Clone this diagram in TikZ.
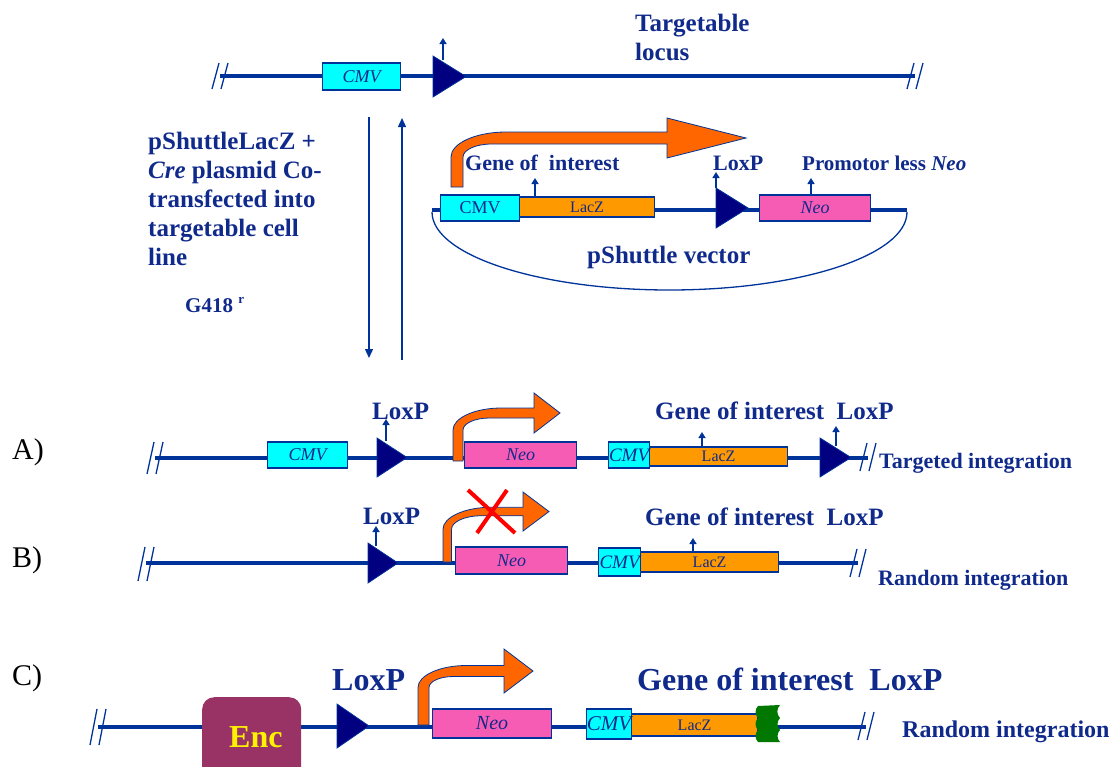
\documentclass[tikz,border=0pt]{standalone}
\usepackage{fontspec}
\setmainfont{Liberation Serif}
\usetikzlibrary{arrows.meta}

\definecolor{lineblue}{RGB}{0,51,153}
\definecolor{txtblue}{RGB}{16,42,140}
\definecolor{navy}{RGB}{0,0,128}
\definecolor{cmvcyan}{RGB}{0,255,255}
\definecolor{lacorange}{RGB}{255,153,0}
\definecolor{neopink}{RGB}{247,92,180}
\definecolor{promorange}{RGB}{255,102,0}
\definecolor{encpurple}{RGB}{153,51,102}
\definecolor{wavegreen}{RGB}{0,120,0}

\newcommand\fsz[1]{\fontsize{#1}{#1}\selectfont}

% two slanted break marks across a backbone: centre x, centre y, half height
\newcommand\brkmark[3]{%
  \draw[brk] (#1-8,#2+#3) -- (#1-1,#2-#3);
  \draw[brk] (#1+1,#2+#3) -- (#1+8,#2-#3);}

% LoxP site: left x, centre y, width, half height
\newcommand\loxsite[4]{%
  \filldraw[lox] (#1,#2-#4) -- (#1+#3,#2) -- (#1,#2+#4) -- cycle;}

% bent promoter arrow: left x, foot y, shaft centre y, shaft width,
% corner radius, head start x, tip x, head half height
\newcommand\bentarrow[8]{%
  \pgfmathsetmacro\promTop{#3-#4/2}%
  \pgfmathsetmacro\promBot{#3+#4/2}%
  \pgfmathsetmacro\promXi{#1+#4}%
  \pgfmathsetmacro\promRi{max(#5-#4,2)}%
  \filldraw[promoter] (#1,#2) -- (#1,\promTop+#5)
    .. controls (#1,\promTop+0.45*#5) and (#1+0.99*#5,\promTop) .. (#1+2.2*#5,\promTop)
    -- (#6,\promTop) -- (#6,#3-#8) -- (#7,#3) -- (#6,#3+#8) -- (#6,\promBot)
    -- (\promXi+2.2*\promRi,\promBot)
    .. controls (\promXi+0.99*\promRi,\promBot) and (\promXi,\promBot+0.45*\promRi) .. (\promXi,\promBot+\promRi)
    -- (\promXi,#2) -- cycle;}

\tikzset{
  backbone/.style={lineblue, line width=3.2pt},
  brk/.style={lineblue, line width=1.3pt},
  thinline/.style={lineblue, line width=1.3pt},
  flow/.style={thinline, -{Triangle[width=8pt,length=9pt]}},
  tick/.style={lineblue, line width=1.8pt, -{Triangle[width=7pt,length=6pt]}},
  gbox/.style={draw=lineblue, line width=1.2pt, inner sep=0pt, text=txtblue, anchor=west},
  cmvbox/.style={gbox, fill=cmvcyan},
  laczbox/.style={gbox, fill=lacorange},
  neobox/.style={gbox, fill=neopink},
  lox/.style={fill=navy, draw=lineblue, line width=0.8pt},
  promoter/.style={fill=promorange, draw=lineblue, line width=0.8pt},
  lbl/.style={text=txtblue, inner sep=0pt, anchor=base west},
  rowlbl/.style={text=black, inner sep=0pt, anchor=base west, font=\fsz{30}},
}

\begin{document}
\begin{tikzpicture}[x=1pt,y=-1pt]
\useasboundingbox (0,0) rectangle (1119,766);
\clip (0,0) rectangle (1119,766);

% ---------------- targetable locus ----------------
\draw[backbone] (220,76) -- (915,76);
\brkmark{220}{76}{13}
\brkmark{915}{76}{13}
\node[cmvbox, minimum width=78pt, minimum height=27pt, font=\fsz{18}\itshape] (cmvTop) at (322,76.5) {CMV};
\loxsite{433}{76.5}{33}{20.5}
\coordinate (tickTopA) at (443,60);
\coordinate (tickTopB) at (443,38);
\draw[tick] (tickTopA) -- (tickTopB);
\node[lbl, font=\fsz{25}\bfseries] (locusA) at (635,31) {Targetable};
\node[lbl, font=\fsz{25}\bfseries] (locusB) at (635,60) {locus};

% ---------------- transfection arrows and text ----------------
\coordinate (downTop) at (369,117);
\coordinate (downBot) at (369,358);
\coordinate (upBot) at (402,360);
\coordinate (upTop) at (402,118);
\draw[flow] (downTop) -- (downBot);
\draw[flow] (upBot) -- (upTop);

\node[lbl, font=\fsz{25}\bfseries] (tx1) at (148,149) {pShuttleLacZ +};
\node[lbl, font=\fsz{25}\bfseries] (tx2) at (148,178) {\textit{Cre} plasmid Co-};
\node[lbl, font=\fsz{25}\bfseries] (tx3) at (148,207) {transfected into};
\node[lbl, font=\fsz{25}\bfseries] (tx4) at (148,236) {targetable cell};
\node[lbl, font=\fsz{25}\bfseries] (tx5) at (148,265) {line};
\node[lbl, font=\fsz{21}\bfseries] (g418) at (185,312) {G418~\raisebox{0.42em}{\fsz{13}r}};

% ---------------- pShuttle vector ----------------
\draw[backbone] (432,210) -- (907,210);
\draw[thinline] (432,212) arc[start angle=180, end angle=0, x radius=237.5, y radius=78];
\bentarrow{451}{187}{138}{12}{25}{667}{746}{20}
\node[cmvbox, minimum width=79pt, minimum height=26pt, font=\fsz{18}] (cmvS) at (440,208) {CMV};
\node[laczbox, minimum width=135pt, minimum height=20pt, font=\fsz{16}] (laczS) at (519,207) {LacZ};
\loxsite{716}{208}{32}{20}
\node[neobox, minimum width=111pt, minimum height=26pt, font=\fsz{18}\itshape] (neoS) at (759,208) {Neo};
\draw[tick] (535,197) -- (535,178);
\draw[tick] (716,188) -- (716,172);
\draw[tick] (811,195) -- (811,178);
\node[lbl, font=\fsz{22}\bfseries] (goiS) at (465,170) {Gene of\enspace interest};
\node[lbl, font=\fsz{22}\bfseries] (loxS) at (713,170) {LoxP};
\node[lbl, font=\fsz{21}\bfseries] (plNeo) at (802,170) {Promotor less \textit{Neo}};
\node[lbl, font=\fsz{25}\bfseries] (psv) at (587,263) {pShuttle vector};

% ---------------- A) targeted integration ----------------
\node[rowlbl] (rowA) at (12,459) {A)};
\draw[backbone] (155,458) -- (868,458);
\brkmark{155}{458}{16}
\brkmark{868}{457}{14}
\node[cmvbox, minimum width=80pt, minimum height=26pt, font=\fsz{18}\itshape] (cmvA1) at (267,455) {CMV};
\loxsite{377}{457.5}{30}{19.5}
\draw[tick] (386,441) -- (386,419);
\bentarrow{453}{461}{413}{10}{22}{534}{560}{20}
\node[neobox, minimum width=112pt, minimum height=26pt, font=\fsz{18}\itshape] (neoA) at (464,455) {Neo};
\node[laczbox, minimum width=138pt, minimum height=19pt, font=\fsz{16}] (laczA) at (649,456.5) {LacZ};
\node[cmvbox, minimum width=41pt, minimum height=26pt, font=\fsz{19}\itshape] (cmvA2) at (608,455) {CMV};
\draw[tick] (702,447) -- (702,432);
\loxsite{820}{457.5}{31}{19.5}
\draw[tick] (836,446) -- (836,426);
\node[lbl, font=\fsz{25}\bfseries] (loxA1) at (372,419) {LoxP};
\node[lbl, font=\fsz{25}\bfseries] (goiA) at (655,419) {Gene of interest\enspace LoxP};
\node[lbl, font=\fsz{22}\bfseries] (tgtA) at (879,468) {Targeted integration};

% ---------------- B) random integration ----------------
\node[rowlbl] (rowB) at (12,567) {B)};
\draw[backbone] (146,563) -- (858,563);
\brkmark{146}{564}{17}
\brkmark{858}{563}{14}
\loxsite{368}{563}{30}{20}
\draw[tick] (376,546) -- (376,526);
\bentarrow{443}{562}{511.5}{8.5}{22}{523}{549}{19.5}
\draw[red, line width=4pt] (468,490) -- (515,533);
\draw[red, line width=4pt] (507,490) -- (477,533);
\node[neobox, minimum width=112pt, minimum height=27pt, font=\fsz{18}\itshape] (neoB) at (455,560.5) {Neo};
\node[laczbox, minimum width=138pt, minimum height=20pt, font=\fsz{16}] (laczB) at (640,562) {LacZ};
\node[cmvbox, minimum width=42pt, minimum height=28pt, font=\fsz{19}\itshape] (cmvB) at (598,562) {CMV};
\draw[tick] (693,552) -- (693,538);
\node[lbl, font=\fsz{25}\bfseries] (loxB1) at (363,524) {LoxP};
\node[lbl, font=\fsz{25}\bfseries] (goiB) at (645,525) {Gene of interest\enspace LoxP};
\node[lbl, font=\fsz{22}\bfseries] (rndB) at (878,585) {Random integration};

% ---------------- C) random integration with Enc ----------------
\node[rowlbl] (rowC) at (12,685) {C)};
\draw[backbone] (98,727) -- (866,727);
\brkmark{98}{727}{18}
\brkmark{866}{726}{14}
\node[fill=encpurple, rounded corners=12pt, minimum width=99pt, minimum height=90pt, inner sep=0pt, anchor=north west] (enc) at (202,697) {};
\node[inner sep=0pt, anchor=base west, text=yellow, font=\fsz{32}\bfseries] (encTxt) at (229,747) {Enc};
\loxsite{337}{726}{32}{22}
\bentarrow{418}{725}{671}{11}{22}{504}{533}{22}
\node[neobox, minimum width=119pt, minimum height=29pt, font=\fsz{20}\itshape] (neoC) at (432,723.5) {Neo};
\node[laczbox, minimum width=126pt, minimum height=22pt, font=\fsz{16}] (laczC) at (631,725) {LacZ};
\node[cmvbox, minimum width=45pt, minimum height=30pt, font=\fsz{21}\itshape] (cmvC) at (586,724) {CMV};
\fill[wavegreen] (758,706) to[bend right=45] (758,718) to[bend right=45] (758,730) to[bend right=45] (758,742)
  -- (780,742) to[bend left=45] (780,730) to[bend left=45] (780,718) to[bend left=45] (780,705) -- cycle;
\node[lbl, font=\fsz{32}\bfseries] (loxC1) at (332,690) {LoxP};
\node[lbl, font=\fsz{32}\bfseries] (goiC) at (637,690) {Gene of interest\enspace LoxP};
\node[lbl, font=\fsz{24}\bfseries] (rndC) at (902,737) {Random integration};
\end{tikzpicture}
\end{document}
